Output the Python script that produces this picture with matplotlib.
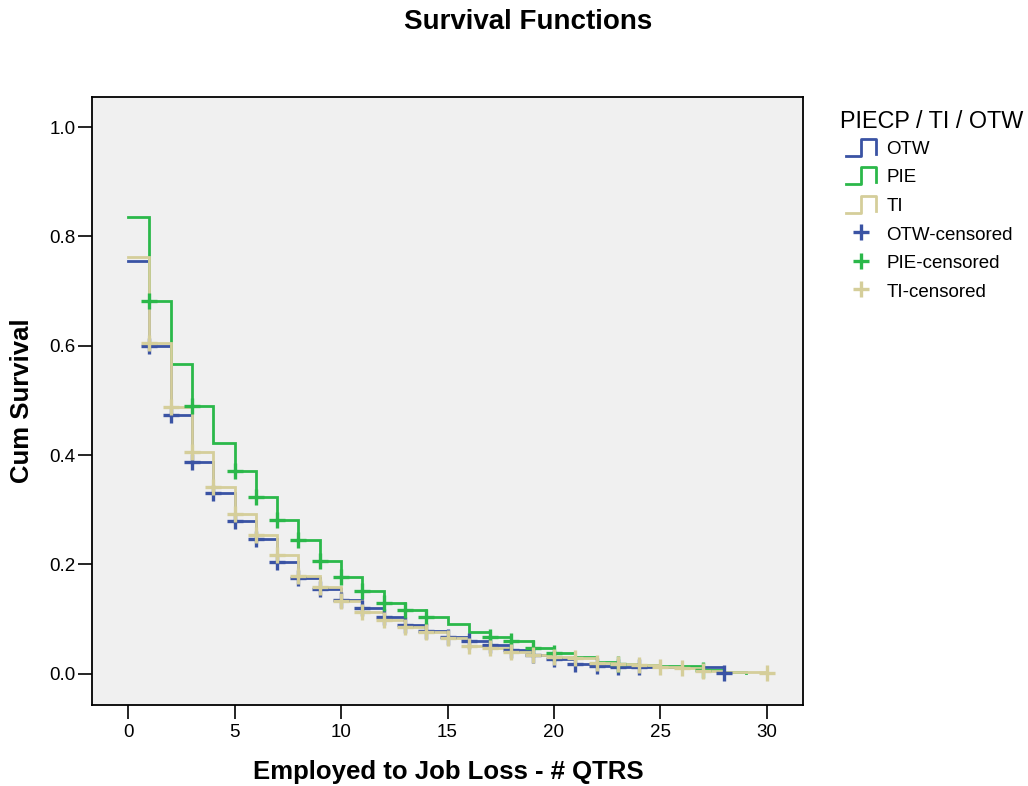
import numpy as np
import matplotlib
matplotlib.use('Agg')
import matplotlib.pyplot as plt
from matplotlib.lines import Line2D
from matplotlib.legend_handler import HandlerBase

plt.rcParams['font.family'] = ['Liberation Sans', 'DejaVu Sans']

# survival estimates, one value per quarter starting at 0
otw_time = np.arange(0, 29)
otw_surv = [0.755, 0.600, 0.473, 0.388, 0.331, 0.280, 0.247, 0.205, 0.176, 0.155,
            0.135, 0.121, 0.104, 0.090, 0.079, 0.068, 0.060, 0.053, 0.044, 0.035,
            0.027, 0.018, 0.015, 0.013, 0.013, 0.013, 0.013, 0.013, 0.002]
pie_time = np.arange(0, 30)
pie_surv = [0.835, 0.681, 0.566, 0.489, 0.422, 0.371, 0.324, 0.282, 0.245, 0.207,
            0.177, 0.152, 0.130, 0.117, 0.104, 0.091, 0.077, 0.068, 0.060, 0.048,
            0.039, 0.031, 0.022, 0.018, 0.016, 0.015, 0.014, 0.007, 0.004, 0.002]
ti_time = np.arange(0, 31)
ti_surv = [0.763, 0.605, 0.488, 0.406, 0.342, 0.293, 0.254, 0.218, 0.179, 0.159,
           0.133, 0.113, 0.099, 0.086, 0.077, 0.066, 0.051, 0.048, 0.040, 0.035,
           0.031, 0.029, 0.020, 0.018, 0.016, 0.013, 0.011, 0.006, 0.004, 0.003, 0.002]

# quarters with censored cases
otw_cens = list(range(1, 25)) + [28]
pie_cens = [1, 3] + list(range(5, 15)) + [17, 18, 19, 20, 23, 27]
ti_cens = list(range(1, 28)) + [30]

groups = ['OTW', 'PIE', 'TI']
colors = {'OTW': '#3A53A4', 'PIE': '#2BB84A', 'TI': '#D5CE9A'}
series = {
    'OTW': (otw_time, otw_surv, otw_cens),
    'PIE': (pie_time, pie_surv, pie_cens),
    'TI': (ti_time, ti_surv, ti_cens),
}


# legend icon shaped like a step
class StepHandler(HandlerBase):
    def create_artists(self, legend, orig_handle, xdescent, ydescent,
                       width, height, fontsize, trans):
        xs = np.array([0, 0.5, 0.5, 1.0, 1.0]) * width - xdescent
        ys = np.array([0.0, 0.0, 1.02, 1.02, 0.12]) * height - ydescent
        ln = Line2D(xs, ys, color=orig_handle.get_color(), lw=2)
        ln.set_transform(trans)
        return [ln]


fig = plt.figure(figsize=(10.28, 7.86), dpi=100)
ax = fig.add_axes([92 / 1028, 81 / 786, 711 / 1028, 608 / 786])
ax.set_facecolor('#F0F0F0')

step_lines = {}
for g in groups:
    t, s, c = series[g]
    step_lines[g], = ax.step(t, s, where='post', color=colors[g], lw=2,
                             solid_joinstyle='miter', zorder=2)

cens_marks = {}
for g in groups:
    t, s, c = series[g]
    s_arr = np.asarray(s)
    cens_marks[g], = ax.plot(c, s_arr[c], ls='none', marker='+', ms=12, mew=2.4,
                             color=colors[g], zorder=3)

ax.set_xlim(-1.7, 31.7)
ax.set_ylim(-0.057, 1.055)
ax.set_xticks(range(0, 31, 5))
ax.set_yticks([0.0, 0.2, 0.4, 0.6, 0.8, 1.0])
ax.set_yticklabels(['0.0', '0.2', '0.4', '0.6', '0.8', '1.0'])
ax.tick_params(axis='both', length=10, width=1.2, labelsize=13.5, pad=2)
ax.tick_params(axis='x', pad=4)
for sp in ax.spines.values():
    sp.set_linewidth(1.3)

# axis titles placed like the original
fig.text(448 / 1028, 1 - 772 / 786, 'Employed to Job Loss - # QTRS', fontsize=18.5,
         fontweight='bold', ha='center', va='center')
fig.text(22 / 1028, 1 - 401 / 786, 'Cum Survival', fontsize=18.5,
         fontweight='bold', ha='center', va='center', rotation=90)
fig.text(528 / 1028, 1 - 22 / 786, 'Survival Functions', fontsize=20,
         fontweight='bold', ha='center', va='center')

# legend title as its own text, entries below it
fig.text(840 / 1028, 1 - 121 / 786, 'PIECP / TI / OTW', fontsize=16.8,
         ha='left', va='center')
handles = [step_lines[g] for g in groups] + [cens_marks[g] for g in groups]
labels = groups + [g + '-censored' for g in groups]
leg = fig.legend(handles, labels, loc='upper left',
                 bbox_to_anchor=(846 / 1028, 1 - 139 / 786),
                 frameon=False, fontsize=13.5,
                 handler_map={step_lines[g]: StepHandler() for g in groups},
                 handlelength=1.6, handleheight=1.0, labelspacing=0.52,
                 handletextpad=0.55, borderaxespad=0, borderpad=0)

fig.savefig('out.png', dpi=100)
